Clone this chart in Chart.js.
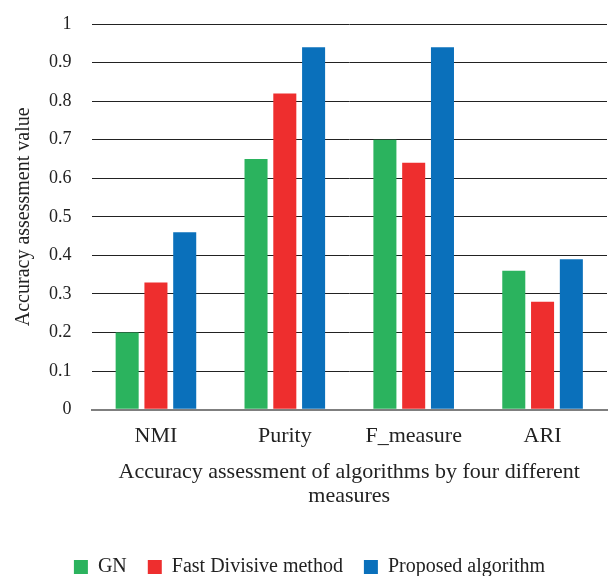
<!DOCTYPE html>
<html><head><meta charset="utf-8">
<script src="https://cdn.jsdelivr.net/npm/chart.js@4"></script>
<style>html,body{margin:0;padding:0;background:#fff}#w{width:610px;height:576px}</style>
</head><body><div id="w"><canvas id="c"></canvas></div>
<script>
const categories = ['NMI', 'Purity', 'F_measure', 'ARI'];
const seriesNames = ['GN', 'Fast Divisive method', 'Proposed algorithm'];
const gnValues = [0.20, 0.65, 0.70, 0.36];
const fastDivisiveValues = [0.33, 0.82, 0.64, 0.28];
const proposedValues = [0.46, 0.94, 0.94, 0.39];
const yTitle = 'Accuracy assessment value';
const xTitle = ['Accuracy assessment of algorithms by four different', 'measures'];
const colors = ['#2bb35e', '#ee2e2e', '#0a70bb'];
const FONT = "'Liberation Serif', 'Times New Roman', serif";
new Chart(document.getElementById('c'), {
  type: 'bar',
  data: {
    labels: categories,
    datasets: [gnValues, fastDivisiveValues, proposedValues].map((d, i) => ({
      label: seriesNames[i], data: d, backgroundColor: colors[i],
      borderWidth: 0, categoryPercentage: 0.67, barPercentage: 0.8
    }))
  },
  options: {
    responsive: true, maintainAspectRatio: false, animation: false,
    layout: { padding: { left: 12, right: 3, top: 24, bottom: -11 } },
    plugins: {
      tooltip: { enabled: false },
      legend: {
        position: 'bottom',
        labels: { font: { family: FONT, size: 20 }, color: '#222', boxWidth: 14, boxHeight: 14, padding: 21 }
      }
    },
    scales: {
      y: {
        min: 0, max: 1,
        ticks: { stepSize: 0.1, font: { family: FONT, size: 18 }, color: '#222', padding: 0,
                 callback: v => String(+(+v).toFixed(1)) },
        grid: { drawTicks: true, tickLength: 20, tickColor: 'rgba(0,0,0,0)',
                color: c => c.tick && c.tick.value === 0 ? '#7f7f7f' : '#222', lineWidth: c => c.tick && c.tick.value === 0 ? 2 : 1 },
        border: { display: false },
        title: { display: true, text: yTitle, font: { family: FONT, size: 20 }, color: '#222', padding: { top: 0, bottom: 13 } }
      },
      x: {
        ticks: { font: { family: FONT, size: 22 }, color: '#222', padding: 13 },
        grid: { display: false, drawTicks: false },
        border: { display: true, color: '#7f7f7f', width: 2 },
        title: { display: true, text: xTitle, font: { family: FONT, size: 22, lineHeight: 1.09 }, color: '#222', padding: { top: -2, bottom: 28 } }
      }
    }
  }
});
</script></body></html>
